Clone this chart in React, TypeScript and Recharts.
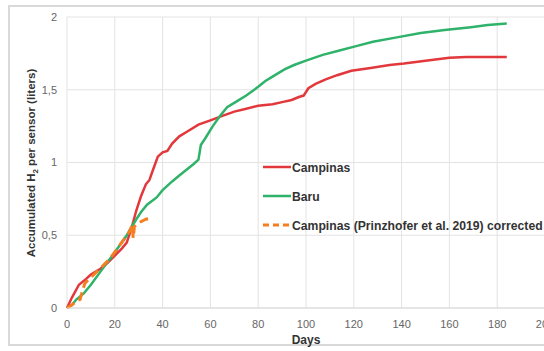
import React from 'react';
import { LineChart, Line, XAxis, YAxis, CartesianGrid } from 'recharts';

const campinasDays = [0, 2, 5, 8, 10, 14, 17, 20, 23, 25, 27, 29, 31, 33, 34.5, 36, 38, 40, 42, 44, 47, 50, 55, 60, 65, 70, 75, 80, 86, 90, 94, 97, 99, 101, 104, 108, 113, 119, 127, 135, 141, 150, 160, 167, 175, 184];
const campinasValues = [0, 0.07, 0.16, 0.2, 0.23, 0.27, 0.31, 0.36, 0.41, 0.45, 0.55, 0.67, 0.77, 0.85, 0.88, 0.95, 1.04, 1.07, 1.08, 1.13, 1.18, 1.21, 1.26, 1.29, 1.32, 1.35, 1.37, 1.39, 1.4, 1.415, 1.43, 1.45, 1.46, 1.51, 1.54, 1.57, 1.6, 1.63, 1.65, 1.67, 1.68, 1.7, 1.72, 1.725, 1.725, 1.725];

const baruDays = [0, 2, 4, 7, 10, 14, 19, 22, 25, 29, 31, 33.5, 37.5, 40, 44, 47, 50, 53, 55, 56, 58, 61, 64, 67, 71, 75, 80, 83, 86, 91, 95, 100, 107, 114, 121, 128, 138, 148, 158, 169, 176, 184];
const baruValues = [0, 0.02, 0.06, 0.1, 0.16, 0.25, 0.36, 0.43, 0.5, 0.61, 0.66, 0.71, 0.76, 0.81, 0.87, 0.91, 0.95, 0.99, 1.02, 1.12, 1.17, 1.25, 1.32, 1.38, 1.42, 1.46, 1.52, 1.56, 1.59, 1.64, 1.67, 1.7, 1.74, 1.77, 1.8, 1.83, 1.86, 1.89, 1.91, 1.93, 1.945, 1.955];

const correctedDays = [0, 2, 4, 5.5, 6.5, 7.5, 10, 12.5, 15, 18, 22, 26, 27.3, 27.7, 28.2, 30.5, 33, 36];
const correctedValues = [0, 0.02, 0.05, 0.06, 0.12, 0.17, 0.21, 0.25, 0.29, 0.34, 0.43, 0.52, 0.57, 0.48, 0.56, 0.59, 0.61, 0.62];

const xTicks = [0, 20, 40, 60, 80, 100, 120, 140, 160, 180, 200];
const yTicks = [0, 0.5, 1, 1.5, 2];

const seriesNames = ['Campinas', 'Baru', 'Campinas (Prinzhofer et al. 2019) corrected'];
const colors = ['#e2383c', '#2fb26a', '#f57f20'];

const toRows = (xs: number[], ys: number[]) => xs.map((x, i) => ({ x, y: ys[i] }));
const campinasData = toRows(campinasDays, campinasValues);
const baruData = toRows(baruDays, baruValues);
const correctedData = toRows(correctedDays, correctedValues);

const FONT = '"Liberation Sans", Arial, sans-serif';

const fmt = (v: number) => String(v).replace('.', ',');

const LegendBox = () => (
  <svg width={285} height={80} style={{ position: 'absolute', left: 263, top: 157, overflow: 'visible' }}>
    {seriesNames.map((n, i) => (
      <g key={n} transform={`translate(0, ${i * 29})`}>
        <line x1={0} y1={10} x2={28} y2={10} stroke={colors[i]} strokeWidth={i === 2 ? 3 : 2.5} strokeDasharray={i === 2 ? '6 4' : undefined} />
        <text x={29} y={14.5} fontFamily={FONT} fontSize={12.2} fontWeight="bold" fill="#333">{n}</text>
      </g>
    ))}
  </svg>
);

export default function App() {
  return (
    <div style={{ position: 'absolute', left: 0, top: 0, width: 544, height: 351, overflow: 'hidden', background: '#fff' }}>
      <div style={{ position: 'absolute', left: 8, top: 5, width: 600, height: 341, border: '2px solid #d9d9d9', boxSizing: 'border-box' }} />
      <div style={{ position: 'absolute', left: 0, top: 0 }}>
        <LineChart width={600} height={351} margin={{ top: 17, left: 47, right: 55, bottom: 13 }}>
          <CartesianGrid stroke="#e3e3e3" strokeWidth={1} />
          <XAxis
            type="number"
            dataKey="x"
            domain={[0, 200]}
            ticks={xTicks}
            axisLine={{ stroke: '#d9d9d9' }}
            tickLine={false}
            tickMargin={6}
            height={30}
            tick={{ fontFamily: FONT, fontSize: 11, fill: '#666' }}
            interval={0}
          />
          <YAxis
            type="number"
            dataKey="y"
            domain={[0, 2]}
            ticks={yTicks}
            axisLine={false}
            tickLine={false}
            tickMargin={4}
            width={20}
            tickFormatter={fmt}
            tick={{ fontFamily: FONT, fontSize: 11, fill: '#666' }}
            interval={0}
          />
          <Line data={campinasData} dataKey="y" name={seriesNames[0]} stroke={colors[0]} strokeWidth={2.5} dot={false} isAnimationActive={false} type="linear" />
          <Line data={baruData} dataKey="y" name={seriesNames[1]} stroke={colors[1]} strokeWidth={2.5} dot={false} isAnimationActive={false} type="linear" />
          <Line data={correctedData} dataKey="y" name={seriesNames[2]} stroke={colors[2]} strokeWidth={3} strokeDasharray="9 5" dot={false} isAnimationActive={false} type="linear" />
          <text x={306} y={344} textAnchor="middle" fontFamily={FONT} fontSize={12} fontWeight="bold" fill="#333">Days</text>
          <text transform="translate(35, 163) rotate(-90)" textAnchor="middle" fontFamily={FONT} fontSize={11.5} fontWeight="bold" fill="#333">
            Accumulated H<tspan fontSize={8} dy={3}>2</tspan><tspan dy={-3}> per sensor (liters)</tspan>
          </text>
        </LineChart>
      </div>
      <LegendBox />
    </div>
  );
}
